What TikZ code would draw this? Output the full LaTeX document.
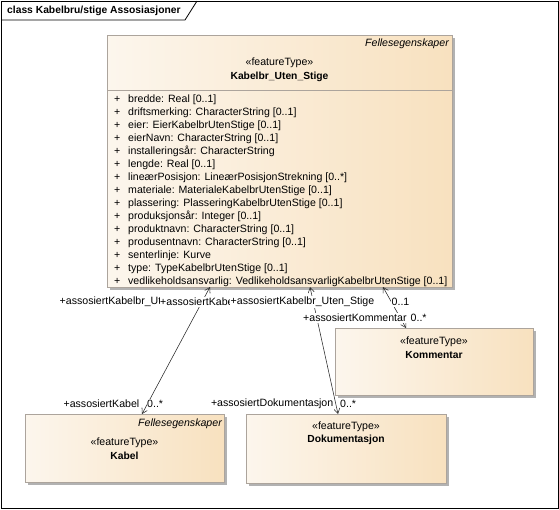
\documentclass[tikz,border=0pt]{standalone}
\usepackage{fontspec}
\setmainfont{Liberation Sans}
\usepackage{tikz}
\usetikzlibrary{arrows.meta,shadows}

\definecolor{boxleft}{RGB}{252,246,237}
\definecolor{boxright}{RGB}{248,225,191}
\definecolor{boxline}{RGB}{172,164,156}
\definecolor{shadowgrey}{RGB}{178,178,178}

\tikzset{
	txt/.style={inner sep=0pt, font=\fontsize{10.6}{13}\selectfont},
	boldtxt/.style={inner sep=0pt, font=\fontsize{10.3}{13}\selectfont\bfseries},
	umlbox/.style={draw=boxline, left color=boxleft, right color=boxright, anchor=north west, inner sep=0pt, outer sep=0pt,
		general shadow={fill=shadowgrey, shadow xshift=3pt, shadow yshift=-3pt}},
	assoc/.style={draw=black!85, line width=0.55pt, {Straight Barb[length=5pt,width=6pt]}-{Straight Barb[length=5pt,width=6pt]}},
	rolelbl/.style={txt, fill=white, inner xsep=0.5pt, inner ysep=1.5pt, anchor=west},
}

\begin{document}
\begin{tikzpicture}[x=1pt, y=-1pt]
	
	\useasboundingbox (0,0) rectangle (559,509);
	
	% ramme
	\draw[line width=0.8pt] (1,1) rectangle (558,508);
	\draw[line width=0.8pt] (1,20) -- (185,20) -- (197,1);
	\node[boldtxt, anchor=west] (tittel) at (7,11) {class Kabelbru/stige Assosiasjoner};
	
	% klasser
	\node[umlbox, minimum width=345pt, minimum height=252pt] (kabelbr) at (107,35) {};
	\node[umlbox, minimum width=198pt, minimum height=67pt] (kommentar) at (335,328) {};
	\node[umlbox, minimum width=199pt, minimum height=68pt] (kabel) at (25,414) {};
	\node[umlbox, minimum width=200pt, minimum height=69pt] (dokumentasjon) at (246,414) {};
	
	\node[txt, anchor=east] (kabelbrpakke) at (449,44) {\itshape Fellesegenskaper};
	\node[txt] (kabelbrstereo) at (279.5,63) {«featureType»};
	\node[boldtxt] (kabelbrnavn) at (279.5,77) {Kabelbr\_Uten\_Stige};
	\draw[boxline] (107,90) -- (452,90);
	\foreach \a [count=\i] in {{bredde: Real [0..1]},
		{driftsmerking: CharacterString [0..1]},
		{eier: EierKabelbrUtenStige [0..1]},
		{eierNavn: CharacterString [0..1]},
		{installeringsår: CharacterString},
		{lengde: Real [0..1]},
		{lineærPosisjon: LineærPosisjonStrekning [0..*]},
		{materiale: MaterialeKabelbrUtenStige [0..1]},
		{plassering: PlasseringKabelbrUtenStige [0..1]},
		{produksjonsår: Integer [0..1]},
		{produktnavn: CharacterString [0..1]},
		{produsentnavn: CharacterString [0..1]},
		{senterlinje: Kurve},
		{type: TypeKabelbrUtenStige [0..1]},
		{vedlikeholdsansvarlig: VedlikeholdsansvarligKabelbrUtenStige [0..1]}}
		\node[txt, anchor=west] (attr\i) at (114,86.5+13*\i) {\makebox[14pt][l]{+}\a};
	
	\node[txt] (kommentarstereo) at (434,341.5) {«featureType»};
	\node[boldtxt] (kommentarnavn) at (434,354.5) {Kommentar};
	
	\node[txt, anchor=east] (kabelpakke) at (222,423.5) {\itshape Fellesegenskaper};
	\node[txt] (kabelstereo) at (124.5,443) {«featureType»};
	\node[boldtxt] (kabelnavn) at (124.5,456) {Kabel};
	
	\node[txt] (dokstereo) at (346,427) {«featureType»};
	\node[boldtxt] (doknavn) at (346,440) {Dokumentasjon};
	
	% assosiasjoner
	\coordinate (kA) at (210,287);
	\coordinate (kB) at (310,287);
	\coordinate (kC) at (383,287);
	\coordinate (kabelTop) at (142,414);
	\coordinate (dokTop) at (338,414);
	\coordinate (kommTop) at (406,328);
	\draw[assoc] (kA) -- (kabelTop);
	\draw[assoc] (kB) -- (dokTop);
	\draw[assoc] (kC) -- (kommTop);
	
	\node[rolelbl] (rolleA) at (59,302) {+assosiertKabelbr\_Ut};
	\node[rolelbl] (rolleB) at (159.5,302) {+assosiertKabe};
	\node[rolelbl] (rolleC) at (230,302) {+assosiertKabelbr\_Uten\_Stige};
	\node[rolelbl] (multC) at (391,302) {0..1};
	\node[rolelbl] (rolleKomm) at (302.5,318) {+assosiertKommentar};
	\node[rolelbl] (multKomm) at (410,318) {0..*};
	\node[rolelbl, anchor=east] (rolleKabel) at (140,404) {+assosiertKabel};
	\node[rolelbl] (multKabel) at (146.5,404) {0..*};
	\node[rolelbl, anchor=east] (rolleDok) at (334,404) {+assosiertDokumentasjon};
	\node[rolelbl] (multDok) at (339.5,404) {0..*};
	
\end{tikzpicture}
\end{document}
